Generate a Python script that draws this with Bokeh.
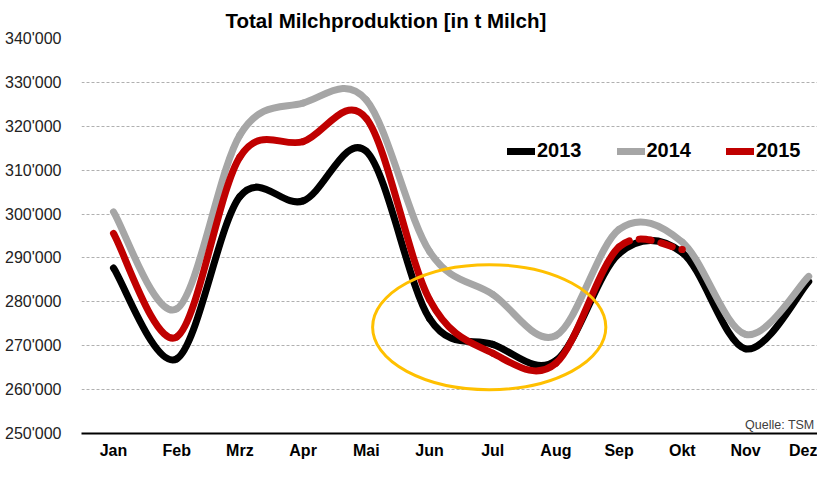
import numpy as np
from bokeh.plotting import figure
from bokeh.models import FixedTicker, Legend, LegendItem, Label, ColumnDataSource
from bokeh.embed import file_html
from bokeh.resources import INLINE

# ---------------- data ----------------
months = ["Jan", "Feb", "Mrz", "Apr", "Mai", "Jun", "Jul", "Aug", "Sep", "Okt", "Nov", "Dez"]
y2013 = [287700, 267000, 304000, 303000, 314300, 276200, 270300, 266600, 291000, 291200, 269300, 284600]
y2014 = [300500, 278400, 318000, 325300, 326000, 291500, 281700, 272300, 296500, 293600, 272600, 285800]
y2015 = [295600, 272000, 313000, 316500, 321800, 280500, 268300, 266000, 292500, 291900]
series_names = ["2013", "2014", "2015"]
series_colors = ["#000000", "#A6A6A6", "#C00000"]
y_ticks = [250000, 260000, 270000, 280000, 290000, 300000, 310000, 320000, 330000, 340000]
y_tick_labels = ["250'000", "260'000", "270'000", "280'000", "290'000",
                 "300'000", "310'000", "320'000", "330'000", "340'000"]
title_text = "Total Milchproduktion [in t Milch]"
source_text = "Quelle: TSM"

FONT = "Liberation Sans"


def bezier_source(vals, start=0, stop=None):
    """Excel-like smoothed line: cubic Bezier segments through the data points."""
    y = np.array(vals, dtype=float)
    x = np.arange(len(y), dtype=float)
    n = len(y)
    if stop is None:
        stop = n - 1
    d = dict(x0=[], y0=[], x1=[], y1=[], cx0=[], cy0=[], cx1=[], cy1=[])
    for i in range(start, stop):
        im1 = max(i - 1, 0)
        ip2 = min(i + 2, n - 1)
        d["x0"].append(x[i]); d["y0"].append(y[i])
        d["x1"].append(x[i + 1]); d["y1"].append(y[i + 1])
        d["cx0"].append(x[i] + (x[i + 1] - x[im1]) / 6.0)
        d["cy0"].append(y[i] + (y[i + 1] - y[im1]) / 6.0)
        d["cx1"].append(x[i + 1] - (x[ip2] - x[i]) / 6.0)
        d["cy1"].append(y[i + 1] - (y[ip2] - y[i]) / 6.0)
    return ColumnDataSource(d)


p = figure(width=817, height=461,
           x_range=(-0.506, 11.139), y_range=(250000, 340000),
           output_backend="svg", toolbar_location=None,
           min_border_left=81, min_border_right=0,
           min_border_top=36, min_border_bottom=23)

p.outline_line_color = None
p.background_fill_color = "white"
p.border_fill_color = "white"

# grid
p.xgrid.grid_line_color = None
p.ygrid.grid_line_color = "#b0b0b0"
p.ygrid.grid_line_dash = "3 2"
p.ygrid.grid_line_width = 1

# y axis
p.yaxis.ticker = FixedTicker(ticks=y_ticks)
p.yaxis.major_label_overrides = {t: l for t, l in zip(y_ticks, y_tick_labels)}
p.yaxis.axis_line_color = None
p.yaxis.major_tick_line_color = None
p.yaxis.minor_tick_line_color = None
p.yaxis.major_label_text_font = FONT
p.yaxis.major_label_text_font_size = "16px"
p.yaxis.major_label_text_color = "#222222"
p.yaxis.major_label_standoff = 14

# x axis
p.xaxis.ticker = FixedTicker(ticks=list(range(len(months))))
p.xaxis.major_label_overrides = {i: m for i, m in enumerate(months)}
p.xaxis.axis_line_color = "black"
p.xaxis.axis_line_width = 2
p.xaxis.major_tick_line_color = None
p.xaxis.minor_tick_line_color = None
p.xaxis.major_label_text_font = FONT
p.xaxis.major_label_text_font_size = "16px"
p.xaxis.major_label_text_font_style = "bold"
p.xaxis.major_label_text_color = "black"
p.xaxis.major_label_standoff = 2

# title
p.title.text = title_text
p.title.text_font = FONT
p.title.text_font_size = "20.5px"
p.title.text_font_style = "bold"
p.title.text_color = "black"
p.title.align = "left"
p.title.offset = 144
p.title.standoff = 13

LW = 7
r2013 = p.bezier(source=bezier_source(y2013), x0="x0", y0="y0", x1="x1", y1="y1",
                 cx0="cx0", cy0="cy0", cx1="cx1", cy1="cy1",
                 line_color=series_colors[0], line_width=LW, line_cap="round")
r2014 = p.bezier(source=bezier_source(y2014), x0="x0", y0="y0", x1="x1", y1="y1",
                 cx0="cx0", cy0="cy0", cx1="cx1", cy1="cy1",
                 line_color=series_colors[1], line_width=LW, line_cap="round")
n15 = len(y2015)
r2015 = p.bezier(source=bezier_source(y2015, 0, n15 - 2), x0="x0", y0="y0", x1="x1", y1="y1",
                 cx0="cx0", cy0="cy0", cx1="cx1", cy1="cy1",
                 line_color=series_colors[2], line_width=LW, line_cap="round")
p.bezier(source=bezier_source(y2015, n15 - 2, n15 - 1), x0="x0", y0="y0", x1="x1", y1="y1",
         cx0="cx0", cy0="cy0", cx1="cx1", cy1="cy1",
         line_color=series_colors[2], line_width=LW, line_cap="round", line_dash="12 10")

# highlight ellipse
p.ellipse(x=[5.945], y=[274230], width=[3.69], height=[28490],
          fill_color=None, line_color="#FFC000", line_width=3)

legend = Legend(items=[LegendItem(label=series_names[0], renderers=[r2013]),
                       LegendItem(label=series_names[1], renderers=[r2014]),
                       LegendItem(label=series_names[2], renderers=[r2015])],
                orientation="horizontal", location=(426, 271),
                label_text_font=FONT, label_text_font_size="20px",
                label_text_font_style="bold", label_text_color="black",
                glyph_width=28, glyph_height=20, label_height=20,
                label_standoff=2, spacing=35, padding=0, margin=0,
                border_line_color=None, background_fill_color=None)
p.add_layout(legend, "center")

p.add_layout(Label(x=733, y=9, x_units="screen", y_units="screen", text=source_text,
                   text_font=FONT, text_font_size="12.5px", text_color="#404040",
                   text_align="right", text_baseline="middle"))

open("out.html", "w").write(file_html(p, INLINE))
